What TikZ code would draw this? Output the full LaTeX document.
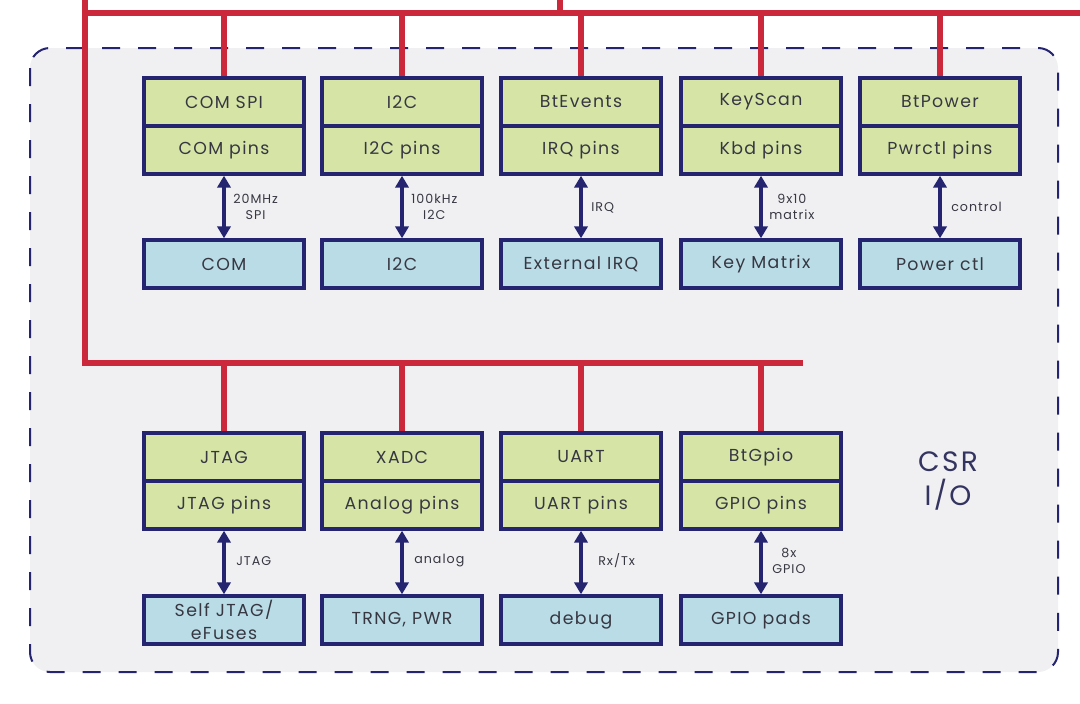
\documentclass[tikz,border=0pt]{standalone}
\usepackage{fontspec}
\setmainfont{Poppins}[LetterSpace=8.0]
\usepackage{tikz}
\usetikzlibrary{arrows.meta}
\definecolor{busred}{RGB}{204, 40, 60}
\definecolor{navy}{RGB}{36, 36, 112}
\definecolor{coregreen}{RGB}{214, 229, 166}
\definecolor{padblue}{RGB}{185, 220, 230}
\definecolor{csrgray}{RGB}{240, 240, 242}
\definecolor{txtgray}{RGB}{55, 55, 66}
\definecolor{csrtext}{RGB}{52, 52, 96}
\begin{document}
\begin{tikzpicture}[x=0.75pt, y=-0.75pt,
        bus/.style={draw=busred, line width=3.8pt},
        core/.style={draw=navy, fill=coregreen, line width=2.6pt, minimum width=120pt, minimum height=36pt, inner sep=0pt, align=center, text=txtgray, font=\fontsize{13}{17}\selectfont},
        pad/.style={core, fill=padblue},
        link/.style={draw=navy, line width=2.6pt, {Triangle[width=10pt,length=9pt]}-{Triangle[width=10pt,length=9pt]}},
        sig/.style={anchor=west, align=center, inner sep=0pt, text=txtgray, font=\fontsize{9.5}{12}\selectfont}]
        \useasboundingbox (0,0) rectangle (1080,703);
        \fill[white] (0,0) rectangle (1080,703);
        \draw[draw=navy, fill=csrgray, line width=1.5pt, dash pattern=on 13.5pt off 13.5pt, rounded corners=15pt] (30,48) rectangle (1058,672);
        \coordinate (topA) at (85,13);
        \coordinate (topB) at (560,13);
        \coordinate (lowA) at (85,363);
        \draw[bus] (85,0) -- (lowA) -- (803,363);
        \draw[bus] (topA) -- (1080,13);
        \draw[bus] (560,0) -- (topB);
        \node[core] (comspi)    at (224,102) {COM SPI};
        \node[core] (compins)   at (224,150) {COM pins};
        \node[pad]  (com)       at (224,264) {COM};
        \node[core] (i2c)       at (402,102) {I2C};
        \node[core] (i2cpins)   at (402,150) {I2C pins};
        \node[pad]  (i2cpad)    at (402,264) {I2C};
        \node[core] (btevents)  at (581,102) {BtEvents};
        \node[core] (irqpins)   at (581,150) {IRQ pins};
        \node[pad]  (extirq)    at (581,264) {External IRQ};
        \node[core] (keyscan)   at (761,102) {KeyScan};
        \node[core] (kbdpins)   at (761,150) {Kbd pins};
        \node[pad]  (keymatrix) at (761,264) {Key Matrix};
        \node[core] (btpower)   at (940,102) {BtPower};
        \node[core] (pwrpins)   at (940,150) {Pwrctl pins};
        \node[pad]  (powerctl)  at (940,264) {Power ctl};
        \node[core] (jtag)       at (224,457) {JTAG};
        \node[core] (jtagpins)   at (224,505) {JTAG pins};
        \node[pad]  (selfjtag)   at (224,620) {Self JTAG/\\eFuses};
        \node[core] (xadc)       at (402,457) {XADC};
        \node[core] (analogpins) at (402,505) {Analog pins};
        \node[pad]  (trng)       at (402,620) {TRNG, PWR};
        \node[core] (uart)       at (581,457) {UART};
        \node[core] (uartpins)   at (581,505) {UART pins};
        \node[pad]  (debug)      at (581,620) {debug};
        \node[core] (btgpio)     at (761,457) {BtGpio};
        \node[core] (gpiopins)   at (761,505) {GPIO pins};
        \node[pad]  (gpiopads)   at (761,620) {GPIO pads};
        \draw[bus] (comspi.north) -- (comspi.north |- topA);
        \draw[bus] (i2c.north) -- (i2c.north |- topA);
        \draw[bus] (btevents.north) -- (btevents.north |- topA);
        \draw[bus] (keyscan.north) -- (keyscan.north |- topA);
        \draw[bus] (btpower.north) -- (btpower.north |- topA);
        \draw[bus] (jtag.north) -- (jtag.north |- lowA);
        \draw[bus] (xadc.north) -- (xadc.north |- lowA);
        \draw[bus] (uart.north) -- (uart.north |- lowA);
        \draw[bus] (btgpio.north) -- (btgpio.north |- lowA);
        \draw[link] (compins) -- (com);
        \draw[link] (i2cpins) -- (i2cpad);
        \draw[link] (irqpins) -- (extirq);
        \draw[link] (kbdpins) -- (keymatrix);
        \draw[link] (pwrpins) -- (powerctl);
        \draw[link] (jtagpins) -- (selfjtag);
        \draw[link] (analogpins) -- (trng);
        \draw[link] (uartpins) -- (debug);
        \draw[link] (gpiopins) -- (gpiopads);
        \node[sig] (lspi)    at (233,207) {20MHz\\SPI};
        \node[sig] (li2c)    at (411,207) {100kHz\\I2C};
        \node[sig] (lirq)    at (591,208) {IRQ};
        \node[sig] (lkbd)    at (769,207) {9x10\\matrix};
        \node[sig] (lpwr)    at (951,207) {control};
        \node[sig] (ljtag)   at (236,561) {JTAG};
        \node[sig] (lanalog) at (414,561) {analog};
        \node[sig] (luart)   at (598,561) {Rx/Tx};
        \node[sig] (lgpio)   at (772,561) {8x\\GPIO};
        \node[align=center, text=csrtext, font=\fontsize{21}{26}\selectfont] (csr) at (948,481) {CSR\\I/O};
\end{tikzpicture}
\end{document}
